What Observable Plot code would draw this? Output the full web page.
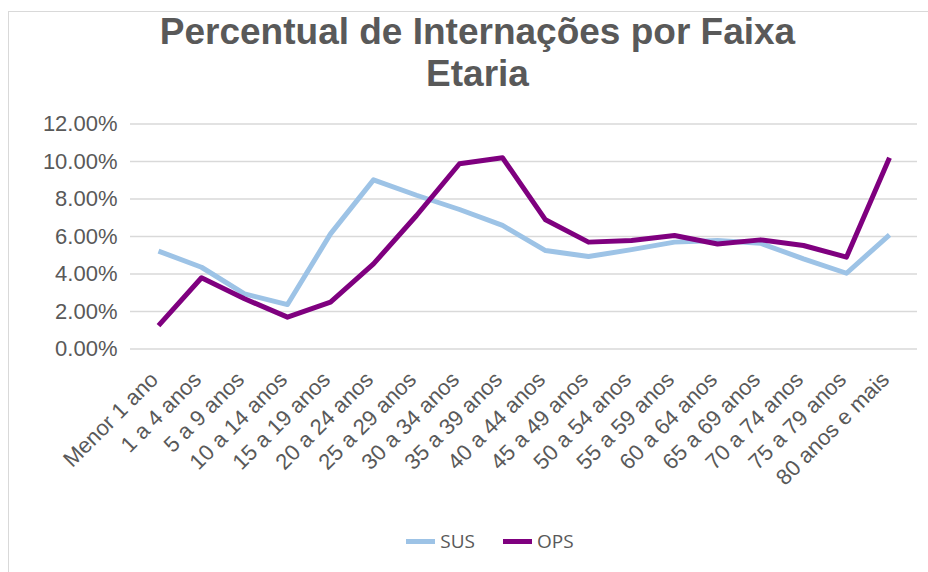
<!DOCTYPE html>
<html>
<head>
<meta charset="utf-8">
<script src="https://cdn.jsdelivr.net/npm/d3@7"></script>
<script src="https://cdn.jsdelivr.net/npm/@observablehq/plot@0.6"></script>
<style>
  body { margin: 0; background: #fff; font-family: "Liberation Sans", Arial, sans-serif; }
  #wrap { position: relative; width: 928px; height: 572px; overflow: hidden; }
  #frame { position: absolute; left: 8px; top: 11px; width: 940px; height: 600px; border: 1px solid #d9d9d9; box-sizing: border-box; }
  #title { position: absolute; left: 0; width: 955px; top: 11px; text-align: center; font-weight: bold; font-size: 37px; line-height: 42px; color: #595959; }
  #chart { position: absolute; left: 0; top: 0; }
  #legend { position: absolute; top: 528px; left: 0; width: 928px; display: flex; justify-content: center; gap: 28px; font-family: "Open Sans", sans-serif; font-size: 19px; color: #595959; padding-left: 52px; box-sizing: border-box; }
  .item { display: flex; align-items: center; gap: 5px; }
  .sw { width: 29px; height: 5px; display: inline-block; }
</style>
</head>
<body>
<div id="wrap">
  <div id="frame"></div>
  <div id="chart"></div>
  <div id="title">Percentual de Internações por Faixa<br>Etaria</div>
  <div id="legend"></div>
</div>
<script>
const categories = ["Menor 1 ano","1 a 4 anos","5 a 9 anos","10 a 14 anos","15 a 19 anos","20 a 24 anos","25 a 29 anos","30 a 34 anos","35 a 39 anos","40 a 44 anos","45 a 49 anos","50 a 54 anos","55 a 59 anos","60 a 64 anos","65 a 69 anos","70 a 74 anos","75 a 79 anos","80 anos e mais"];
const sus = [5.22, 4.36, 2.94, 2.37, 6.14, 9.02, 8.2, 7.44, 6.59, 5.25, 4.93, 5.3, 5.7, 5.79, 5.64, 4.81, 4.04, 6.09];
const ops = [1.25, 3.8, 2.68, 1.7, 2.5, 4.54, 7.12, 9.88, 10.2, 6.89, 5.7, 5.79, 6.05, 5.6, 5.82, 5.52, 4.9, 10.2];
const seriesNames = ["SUS", "OPS"];
const seriesColors = ["#9dc3e6", "#7f007f"];
const yTicks = [0, 0.02, 0.04, 0.06, 0.08, 0.10, 0.12];

const data = [];
categories.forEach((c, i) => {
  data.push({cat: c, series: "SUS", value: sus[i] / 100});
  data.push({cat: c, series: "OPS", value: ops[i] / 100});
});

const chart = Plot.plot({
  width: 928,
  height: 572,
  marginLeft: 130,
  marginRight: 11,
  marginTop: 123.5,
  marginBottom: 223.5,
  style: {fontFamily: "Liberation Sans, Arial, sans-serif", background: "transparent", overflow: "visible"},
  x: {type: "point", domain: categories, padding: 0.5, label: null},
  y: {domain: [0, 0.12], label: null},
  color: {domain: seriesNames, range: seriesColors},
  marks: [
    Plot.gridY(yTicks, {stroke: "#d9d9d9", strokeOpacity: 1, strokeWidth: 1.5}),
    Plot.axisY({ticks: yTicks, tickFormat: d3.format(".2%"), tickSize: 0, tickPadding: 13, fontSize: 22, fill: "#595959"}),
    Plot.axisX({tickSize: 0, tickRotate: -45, tickPadding: 27, dx: -4, fontSize: 22, fill: "#595959"}),
    Plot.line(data, {x: "cat", y: "value", z: "series", stroke: "series", strokeWidth: 5, strokeLinejoin: "round", strokeLinecap: "butt"})
  ]
});
document.getElementById("chart").appendChild(chart);

const legend = document.getElementById("legend");
seriesNames.forEach((n, i) => {
  const it = document.createElement("div");
  it.className = "item";
  it.innerHTML = `<span class="sw" style="background:${seriesColors[i]}"></span><span>${n}</span>`;
  legend.appendChild(it);
});
</script>
</body>
</html>
